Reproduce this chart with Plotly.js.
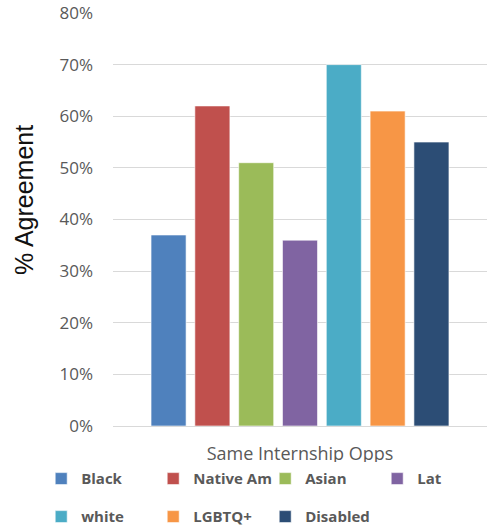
<!DOCTYPE html>
<html>
<head>
<meta charset="utf-8">
<script src="https://cdn.plot.ly/plotly-3.0.1.min.js"></script>
<style>
html,body{margin:0;padding:0;background:#fff;}
#chart{width:487px;height:531px;}
</style>
</head>
<body>
<div id="chart"></div>
<script>
const category = "Same Internship Opps";
const groups = ["Black", "Native Am", "Asian", "Lat", "white", "LGBTQ+", "Disabled"];
const values = [0.37, 0.62, 0.51, 0.36, 0.70, 0.61, 0.55];
const colors = ["#4F81BD", "#C0504D", "#9BBB59", "#8064A2", "#4BACC6", "#F79646", "#2C4D75"];
const yTickVals = [0, 0.1, 0.2, 0.3, 0.4, 0.5, 0.6, 0.7, 0.8];
const yTitle = "% Agreement";

const traces = groups.map((g, i) => ({
  type: "bar",
  name: g,
  x: [category],
  y: [values[i]],
  marker: { color: colors[i], line: { color: "rgba(255,255,255,0.6)", width: 1 } },
  legend: i < 4 ? "legend" : "legend2",
  hoverinfo: "skip"
}));

const legendFont = { family: "Open Sans, sans-serif", size: 15, color: "#595959", weight: "bold" };

const layout = {
  width: 487,
  height: 531,
  margin: { l: 113, r: 0, t: 13, b: 105, autoexpand: false },
  paper_bgcolor: "#fff",
  plot_bgcolor: "#fff",
  barmode: "group",
  bargap: 0.18,
  bargroupgap: 0.2,
  font: { family: "Open Sans, sans-serif", color: "#595959" },
  xaxis: {
    type: "category",
    automargin: false,
    showgrid: false,
    showline: false,
    zeroline: false,
    ticks: "",
    ticklabelstandoff: 15,
    tickfont: { family: "Open Sans, sans-serif", size: 18, color: "#595959" }
  },
  yaxis: {
    range: [0, 0.8],
    automargin: false,
    tickvals: yTickVals,
    tickformat: ".0%",
    showgrid: true,
    gridcolor: "#D9D9D9",
    gridwidth: 1,
    zeroline: true,
    zerolinecolor: "#D9D9D9",
    zerolinewidth: 1,
    showline: false,
    ticks: "",
    ticklabelstandoff: 19,
    tickfont: { family: "Open Sans, sans-serif", size: 17, color: "#595959" }
  },
  showlegend: true,
  legend: {
    orientation: "h",
    x: -0.192, xanchor: "left",
    y: -0.128, yanchor: "middle",
    entrywidth: 67, entrywidthmode: "pixels",
    font: legendFont,
    traceorder: "normal",
    itemclick: false
  },
  legend2: {
    orientation: "h",
    x: -0.192, xanchor: "left",
    y: -0.220, yanchor: "middle",
    entrywidth: 67, entrywidthmode: "pixels",
    font: legendFont,
    traceorder: "normal",
    itemclick: false
  },
  annotations: [{
    text: yTitle,
    xref: "paper", yref: "paper",
    x: -0.240, y: 0.548,
    xanchor: "center", yanchor: "middle",
    textangle: -90,
    showarrow: false,
    font: { family: "Liberation Sans, Arial, sans-serif", size: 25, color: "#111" }
  }]
};

Plotly.newPlot("chart", traces, layout, { staticPlot: true, displayModeBar: false });
</script>
</body>
</html>
